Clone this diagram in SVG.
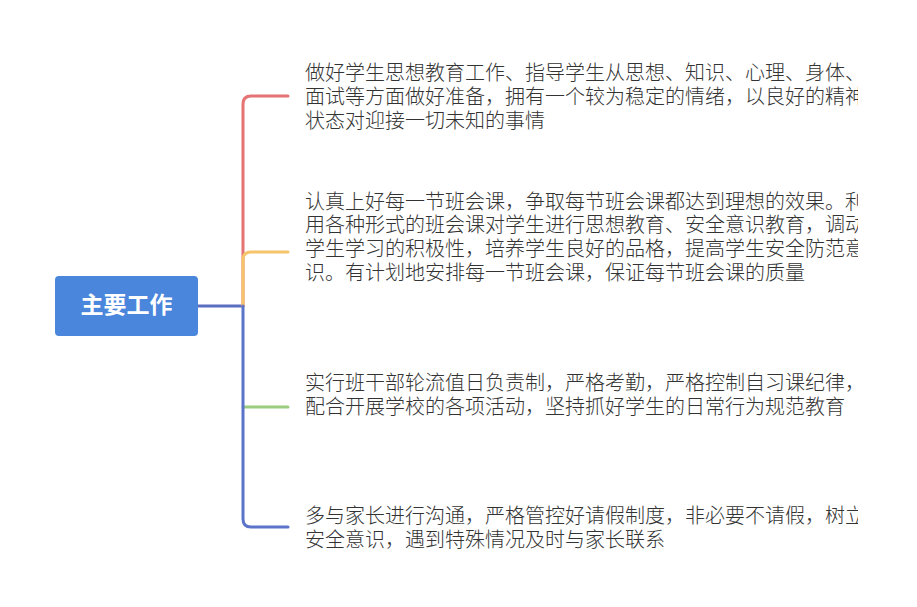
<svg xmlns="http://www.w3.org/2000/svg" width="917" height="607" viewBox="0 0 917 607">
<defs>
<style>
.t{font-family:"Noto Sans CJK SC","Noto Sans",sans-serif;font-size:20px;font-weight:300;fill:#333333}
.root{font-family:"Noto Sans CJK SC","Noto Sans",sans-serif;font-size:23px;font-weight:bold;fill:#ffffff}
.c{fill:none;stroke-width:3;stroke-linecap:round;stroke-linejoin:round}
</style>
<clipPath id="clip"><rect x="290" y="0" width="568" height="607"/></clipPath>
</defs>
<rect width="917" height="607" fill="#ffffff"/>
<g id="connectors">
<path class="c" stroke="#5b6fc2" d="M198 306 H243"/>
<path class="c" stroke="#e57373" d="M243 306 V104 Q243 96 251 96 H288"/>
<path class="c" stroke="#f5c46b" d="M243 306 V260 Q243 252 251 252 H288"/>
<path class="c" stroke="#9ccc7f" d="M243 407 H288"/>
<path class="c" stroke="#5b74c9" d="M243 306 V519 Q243 527 251 527 H288"/>
</g>
<g id="root">
<rect x="55" y="276" width="143" height="60" rx="4" fill="#4a86dc"/>
<text class="root" x="126.5" y="313" text-anchor="middle">主要工作</text>
</g>
<g id="n1" clip-path="url(#clip)">
<text class="t" x="305" y="79.5">做好学生思想教育工作、指导学生从思想、知识、心理、身体、</text>
<text class="t" x="305" y="103.5">面试等方面做好准备，拥有一个较为稳定的情绪，以良好的精神</text>
<text class="t" x="305" y="127.5">状态对迎接一切未知的事情</text>
</g>
<g id="n2" clip-path="url(#clip)">
<text class="t" x="305" y="208.5">认真上好每一节班会课，争取每节班会课都达到理想的效果。利</text>
<text class="t" x="305" y="232">用各种形式的班会课对学生进行思想教育、安全意识教育，调动</text>
<text class="t" x="305" y="256">学生学习的积极性，培养学生良好的品格，提高学生安全防范意</text>
<text class="t" x="305" y="280">识。有计划地安排每一节班会课，保证每节班会课的质量</text>
</g>
<g id="n3" clip-path="url(#clip)">
<text class="t" x="305" y="390">实行班干部轮流值日负责制，严格考勤，严格控制自习课纪律，</text>
<text class="t" x="305" y="414">配合开展学校的各项活动，坚持抓好学生的日常行为规范教育</text>
</g>
<g id="n4" clip-path="url(#clip)">
<text class="t" x="305" y="523">多与家长进行沟通，严格管控好请假制度，非必要不请假，树立</text>
<text class="t" x="305" y="547">安全意识，遇到特殊情况及时与家长联系</text>
</g>
</svg>
